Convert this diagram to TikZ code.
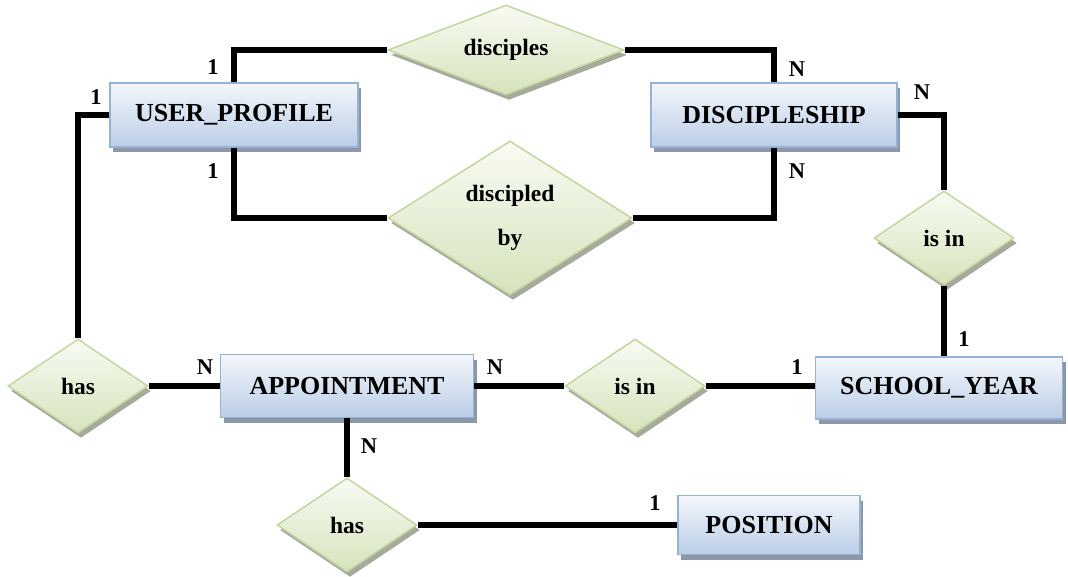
\documentclass[tikz,border=0pt]{standalone}
\usepackage{fontspec}
\setmainfont{Liberation Serif}
\usepackage{tikz}
\usetikzlibrary{shapes.geometric,shadows}
\definecolor{entedge}{RGB}{149,179,215}
\definecolor{enttop}{RGB}{243,247,252}
\definecolor{entbot}{RGB}{187,206,230}
\definecolor{entshade}{RGB}{140,152,168}
\definecolor{reledge}{RGB}{196,214,160}
\definecolor{reltop}{RGB}{248,251,243}
\definecolor{relbot}{RGB}{214,227,188}
\definecolor{relshade}{RGB}{165,170,155}

\begin{document}
\begin{tikzpicture}[
    x=1pt, y=-1pt,
    entity/.style={draw=entedge, line width=1.5pt, top color=enttop, bottom color=entbot,
        minimum width=248pt, minimum height=64pt, inner sep=0pt,
        font=\fontsize{26}{30}\selectfont\bfseries,
        drop shadow={shadow xshift=3pt, shadow yshift=-5pt, fill=entshade, opacity=1}},
    rel/.style={diamond, draw=reledge, line width=1.5pt, top color=reltop, bottom color=relbot,
        aspect=1.6, inner sep=0pt, align=center,
        font=\fontsize{23.5}{26}\selectfont\bfseries,
        drop shadow={shadow xshift=3pt, shadow yshift=-5pt, fill=relshade, opacity=1}},
    card/.style={font=\fontsize{22.5}{26}\selectfont\bfseries, inner sep=1pt},
    link/.style={line width=6pt}
]
\useasboundingbox (0,0) rectangle (1068,577);

% entities
\node[entity] (user) at (234,115) {USER\_PROFILE};
\node[entity, minimum width=246pt] (ship) at (774,115) {DISCIPLESHIP};
\node[entity, minimum width=253pt, minimum height=63pt] (appt) at (347,386) {APPOINTMENT};
\node[entity, minimum width=247pt, minimum height=62pt] (year) at (939,388) {SCHOOL\_YEAR};
\node[entity, minimum width=182pt, minimum height=59pt] (post) at (769,525) {POSITION};

% relationships
\node[rel, minimum width=236pt, minimum height=90pt] (disciples) at (506,50) {disciples};
\node[rel, minimum width=244pt, minimum height=154pt] (discby) at (510,218)
    {discipled\\[18pt]by};
\node[rel, minimum width=140pt, minimum height=94pt] (yearin) at (944,238) {is in};
\node[rel, minimum width=140pt, minimum height=94pt] (userhas) at (78,386) {has};
\node[rel, minimum width=140pt, minimum height=94pt] (apptin) at (635,386) {is in};
\node[rel, minimum width=140pt, minimum height=94pt] (posthas) at (347,525) {has};

% connectors
\draw[link] (user.north) |- (disciples.west);
\draw[link] (disciples.east) -| (ship.north);
\draw[link] (user.south) |- (discby.west);
\draw[link] (discby.east) -| (ship.south);
\draw[link] (ship.east) -| (yearin.north);
\draw[link] (yearin.south) -- (yearin.south |- year.north);
\draw[link] (user.west) -| (userhas.north);
\draw[link] (userhas.east) -- (appt.west);
\draw[link] (appt.east) -- (apptin.west);
\draw[link] (apptin.east) -- (apptin.east -| year.west);
\draw[link] (appt.south) -- (posthas.north);
\draw[link] (posthas.east) -- (posthas.east -| post.west);

% cardinalities
\node[card] (c1) at (213,67) {1};
\node[card] (c2) at (797,69) {N};
\node[card] (c3) at (96,97) {1};
\node[card] (c4) at (922,92) {N};
\node[card] (c5) at (213,171) {1};
\node[card] (c6) at (797,171) {N};
\node[card] (c7) at (964,339) {1};
\node[card] (c8) at (205,367) {N};
\node[card] (c9) at (495,367) {N};
\node[card] (c10) at (797,367) {1};
\node[card] (c11) at (369,446) {N};
\node[card] (c12) at (655,503) {1};

\end{tikzpicture}
\end{document}
